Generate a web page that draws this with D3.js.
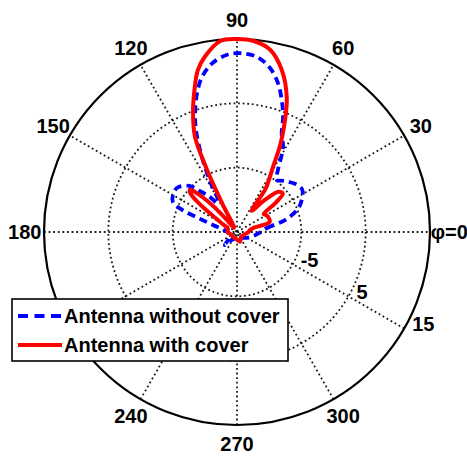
<!DOCTYPE html>
<html>
<head>
<meta charset="utf-8">
<script src="https://cdn.jsdelivr.net/npm/d3@7"></script>
<style>
  html, body { margin: 0; padding: 0; background: #fff; }
  svg { display: block; }
  text { font-family: "Liberation Sans", Arial, sans-serif; font-weight: bold; fill: #000; }
</style>
</head>
<body>
<svg id="chart" width="467" height="457"></svg>
<script>
// Radiation pattern (dB) versus azimuth angle phi (degrees, counter-clockwise from +x)
const anglesWithoutCover = [0, 7.6, 14, 20, 25, 33, 39, 44, 48, 53, 56.5, 61.5, 65.6, 68.2, 71.2, 74.6, 78.6, 83.5, 89, 93.2, 98.4, 102.7, 106, 109.4, 112, 115, 118, 121, 124, 128, 132, 136, 142.7, 148, 154.9, 158, 160, 163.7, 170, 180, 200, 218, 227, 236, 260, 280, 310, 330, 346];
const gainWithoutCover = [-11.3, -10.3, -7.3, -5.1, -4.0, -2.9, -3.2, -3.8, -4.3, -4.8, -3.5, 0, 1.8, 4.3, 6.6, 9, 11, 12.4, 12.8, 12.6, 11.5, 9.7, 7.5, 4.6, 2, -2, -6, -9.3, -9.6, -8, -6.5, -4.7, -3.5, -3.4, -4, -5.8, -8.5, -11.1, -12.8, -13.5, -13.8, -13.5, -12.2, -13.5, -14, -14, -13.8, -13.2, -12.4];

const anglesWithCover = [0, 8, 14, 17, 24, 31, 34, 37, 40, 44, 49, 55.5, 56.5, 58.5, 61, 63.5, 66, 69.6, 74.5, 79.7, 85, 90, 95, 100.4, 103.6, 106.2, 110.3, 113.8, 115.5, 116.5, 117.5, 120, 126, 130, 133, 136, 138, 140, 143, 147, 151, 160, 180, 200, 230, 255, 270, 287, 310, 340];
const gainWithCover = [-13.2, -13, -12.4, -9.7, -9.6, -9.8, -10, -7.6, -5.7, -6.0, -8.4, -11, -7, -5.5, -3.5, 0, 3, 7.2, 11.1, 13.8, 14.8, 15.1, 14.8, 12.7, 10.9, 8.5, 4.7, 1.2, -3.5, -7, -10.5, -14, -14.2, -12.5, -9, -6.3, -5.2, -5.5, -7.5, -11, -12.5, -13.5, -13.5, -14, -14, -14, -13.8, -13.4, -14, -13.8];

// Radial ticks (dB) and angular tick labels
const rhoTicks = [-5, 5, 15];
const spokeAngles = [0, 30, 60, 90, 120, 150];
const angleTickAngles = [0, 30, 60, 90, 120, 150, 180, 240, 270, 300];
const angleTickLabels = ["\u03c6=0", "30", "60", "90", "120", "150", "180", "240", "270", "300"];

const seriesNames = ["Antenna without cover", "Antenna with cover"];

const cx = 237, cy = 232, R = 193;
const svg = d3.select("#chart");
const g = svg.append("g").attr("transform", `translate(${cx},${cy})`);

const r = d3.scaleLinear().domain([-15, 15]).range([0, R]).clamp(true);
const toRad = d => d * Math.PI / 180;

const dotted = sel => sel.attr("fill", "none").attr("stroke", "#1a1a1a")
  .attr("stroke-width", 1.8).attr("stroke-dasharray", "1.8,2.8");

// Inner rings
g.selectAll("circle.ring").data(rhoTicks.slice(0, -1)).join("circle")
  .attr("class", "ring").attr("r", d => r(d)).call(dotted);

// Spokes through the centre
g.selectAll("line.spoke").data(spokeAngles).join("line")
  .attr("class", "spoke")
  .attr("x1", d => -R * Math.cos(toRad(d))).attr("y1", d => R * Math.sin(toRad(d)))
  .attr("x2", d => R * Math.cos(toRad(d))).attr("y2", d => -R * Math.sin(toRad(d)))
  .call(dotted);

// Outer boundary
g.append("circle").attr("r", r(15)).attr("fill", "none")
  .attr("stroke", "#000").attr("stroke-width", 2.2);

// Angular labels
const labR = R * 1.1;
g.selectAll("text.ang").data(angleTickAngles).join("text")
  .attr("class", "ang")
  .attr("x", d => labR * Math.cos(toRad(d)))
  .attr("y", d => -labR * Math.sin(toRad(d)))
  .attr("text-anchor", "middle").attr("dominant-baseline", "central")
  .attr("font-size", 20)
  .text((d, i) => angleTickLabels[i]);

// Radial labels along the 330 degree spoke
g.selectAll("text.rho").data(rhoTicks).join("text")
  .attr("class", "rho")
  .attr("x", d => r(d) * Math.cos(toRad(30)) + 8)
  .attr("y", d => r(d) * Math.sin(toRad(30)) - 4.5)
  .attr("dominant-baseline", "central")
  .attr("font-size", 20)
  .text(d => d);

// Pattern curves
const radial = d3.lineRadial()
  .angle(d => toRad(90 - d[0]))
  .radius(d => r(d[1]))
  .curve(d3.curveCatmullRomClosed.alpha(0.5));

const ptsWithout = d3.zip(anglesWithoutCover, gainWithoutCover);
const ptsWith = d3.zip(anglesWithCover, gainWithCover);

g.append("path").datum(ptsWithout).attr("d", radial)
  .attr("fill", "none").attr("stroke", "#0000ff").attr("stroke-width", 3.8)
  .attr("stroke-dasharray", "8,5");

g.append("path").datum(ptsWith).attr("d", radial)
  .attr("fill", "none").attr("stroke", "#ff0000").attr("stroke-width", 4)
  .attr("stroke-linejoin", "round");

// Legend
const legend = svg.append("g").attr("transform", "translate(12,299)");
legend.append("rect").attr("width", 276).attr("height", 62)
  .attr("fill", "#fff").attr("stroke", "#000").attr("stroke-width", 1.6);
const styles = [
  { color: "#0000ff", dash: "10,6.5" },
  { color: "#ff0000", dash: null }
];
seriesNames.forEach((name, i) => {
  const y = 17 + i * 29;
  legend.append("line").attr("x1", 6).attr("x2", 50).attr("y1", y).attr("y2", y)
    .attr("stroke", styles[i].color).attr("stroke-width", 3.8)
    .attr("stroke-dasharray", styles[i].dash);
  legend.append("text").attr("x", 52).attr("y", y)
    .attr("dominant-baseline", "central").attr("font-size", 20)
    .text(name);
});
</script>
</body>
</html>
